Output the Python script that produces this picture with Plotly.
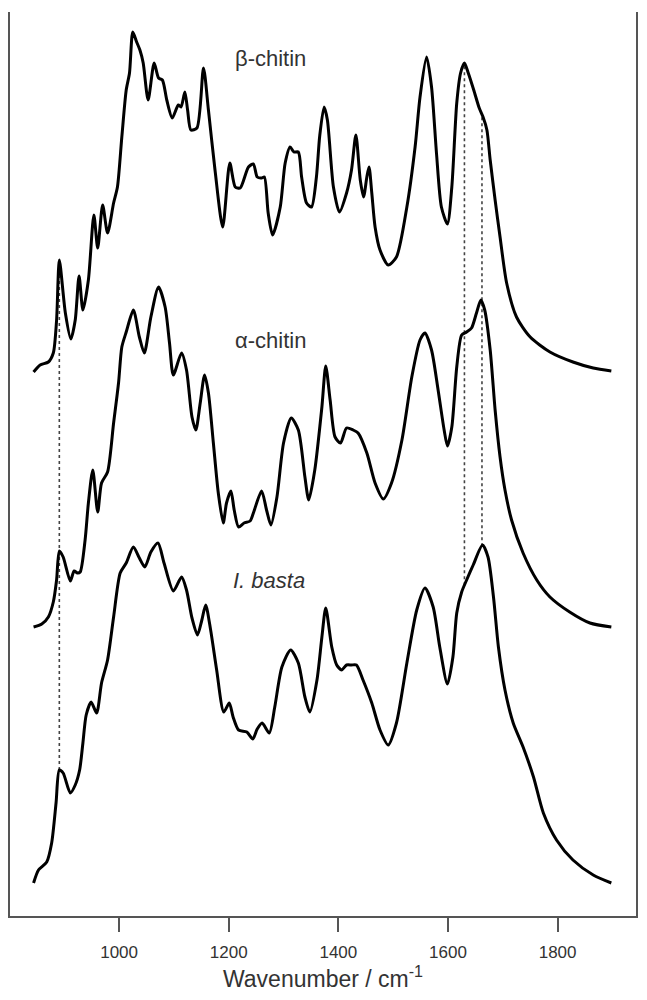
import numpy as np
import plotly.graph_objects as go

# FTIR spectra, stacked (offset absorbance, a.u.)
beta_wn = [844, 856, 871, 880, 886, 891, 902, 912, 920, 927, 934, 944, 954, 961,
           970, 979, 990, 997, 1005, 1013, 1019, 1025, 1032, 1038, 1044, 1053, 1064,
           1072, 1079, 1087, 1097, 1108, 1113, 1120, 1125, 1131, 1142, 1154, 1163,
           1175, 1189, 1202, 1212, 1221, 1236, 1245, 1252, 1260, 1265, 1272, 1280,
           1294, 1303, 1312, 1319, 1327, 1333, 1342, 1351, 1360, 1366, 1374, 1380,
           1391, 1402, 1415, 1424, 1432, 1440, 1446, 1452, 1456, 1461, 1467, 1476,
           1491, 1506, 1525, 1540, 1549, 1561, 1570, 1579, 1588, 1599, 1607, 1616,
           1623, 1630, 1637, 1647, 1657, 1664, 1671, 1677, 1686, 1695, 1707, 1725,
           1750, 1786, 1828, 1865, 1898]
beta_abs = [5.44, 5.51, 5.54, 5.63, 5.96, 6.56, 6.03, 5.77, 5.96, 6.40, 6.06, 6.36,
            7.01, 6.68, 7.11, 6.83, 7.13, 7.29, 7.79, 8.26, 8.43, 8.84, 8.74, 8.66,
            8.53, 8.16, 8.53, 8.38, 8.36, 8.16, 7.98, 8.11, 8.09, 8.24, 8.06, 7.86,
            7.88, 8.48, 8.06, 7.46, 6.89, 7.53, 7.29, 7.28, 7.49, 7.52, 7.39, 7.38,
            7.39, 7.03, 6.81, 7.09, 7.53, 7.69, 7.64, 7.64, 7.39, 7.13, 7.09, 7.39,
            7.80, 8.09, 7.96, 7.29, 7.04, 7.23, 7.46, 7.81, 7.36, 7.19, 7.39, 7.49,
            7.23, 6.89, 6.66, 6.51, 6.59, 7.09, 7.69, 8.19, 8.59, 8.29, 7.63, 7.09,
            6.92, 7.29, 8.13, 8.43, 8.53, 8.43, 8.26, 8.08, 7.99, 7.86, 7.56, 7.16,
            6.79, 6.33, 5.99, 5.79, 5.64, 5.54, 5.48, 5.45]

alpha_wn = [844, 859, 871, 880, 886, 891, 898, 911, 918, 924, 929, 938, 944, 952,
            961, 968, 979, 990, 999, 1005, 1013, 1026, 1037, 1046, 1058, 1072, 1084,
            1092, 1099, 1114, 1123, 1133, 1140, 1148, 1156, 1163, 1172, 1181, 1190,
            1196, 1204, 1210, 1218, 1228, 1239, 1245, 1260, 1269, 1277, 1288, 1300,
            1314, 1327, 1339, 1346, 1357, 1370, 1377, 1385, 1394, 1404, 1415, 1427,
            1436, 1452, 1467, 1482, 1497, 1516, 1534, 1549, 1558, 1570, 1582, 1593,
            1599, 1607, 1616, 1625, 1634, 1643, 1652, 1660, 1667, 1677, 1686, 1695,
            1704, 1716, 1737, 1762, 1786, 1822, 1859, 1898]
alpha_abs = [2.89, 2.92, 2.99, 3.14, 3.36, 3.65, 3.59, 3.35, 3.45, 3.43, 3.44, 3.76,
             4.13, 4.46, 4.04, 4.33, 4.44, 4.93, 5.33, 5.69, 5.84, 6.06, 5.79, 5.63,
             5.99, 6.29, 6.09, 5.73, 5.41, 5.63, 5.46, 4.99, 4.86, 5.13, 5.41, 5.23,
             4.73, 4.23, 3.93, 4.13, 4.25, 4.06, 3.89, 3.93, 3.95, 4.03, 4.25, 4.06,
             3.91, 4.19, 4.73, 4.98, 4.86, 4.39, 4.16, 4.46, 5.09, 5.50, 5.16, 4.79,
             4.73, 4.88, 4.86, 4.83, 4.63, 4.33, 4.17, 4.33, 4.76, 5.39, 5.76, 5.83,
             5.66, 5.26, 4.86, 4.70, 4.89, 5.49, 5.81, 5.84, 5.88, 6.03, 6.16, 6.06,
             5.66, 5.06, 4.59, 4.26, 3.96, 3.63, 3.36, 3.19, 3.04, 2.93, 2.89]

basta_wn = [844, 853, 868, 877, 885, 891, 898, 911, 920, 928, 934, 940, 949, 959,
            968, 979, 990, 1002, 1013, 1026, 1037, 1047, 1058, 1071, 1082, 1099, 1114,
            1123, 1133, 1143, 1151, 1158, 1167, 1178, 1191, 1201, 1208, 1218, 1233,
            1244, 1252, 1261, 1274, 1284, 1297, 1313, 1327, 1339, 1348, 1361, 1370,
            1377, 1388, 1397, 1406, 1415, 1424, 1433, 1445, 1461, 1476, 1491, 1506,
            1525, 1543, 1558, 1573, 1585, 1599, 1609, 1616, 1625, 1634, 1646, 1663,
            1673, 1683, 1692, 1704, 1719, 1737, 1756, 1774, 1798, 1828, 1865, 1898]
basta_abs = [0.33, 0.46, 0.54, 0.73, 1.13, 1.46, 1.43, 1.23, 1.31, 1.46, 1.73, 2.01,
             2.14, 2.03, 2.33, 2.56, 2.99, 3.43, 3.53, 3.69, 3.58, 3.49, 3.64, 3.73,
             3.53, 3.25, 3.39, 3.26, 2.98, 2.81, 2.96, 3.11, 2.86, 2.46, 2.04, 2.13,
             1.99, 1.86, 1.84, 1.77, 1.87, 1.93, 1.83, 2.09, 2.49, 2.66, 2.53, 2.19,
             2.04, 2.36, 2.79, 3.08, 2.69, 2.51, 2.46, 2.51, 2.51, 2.51, 2.36, 2.13,
             1.86, 1.71, 1.93, 2.53, 3.06, 3.28, 3.09, 2.69, 2.32, 2.59, 3.03, 3.24,
             3.36, 3.51, 3.71, 3.59, 3.19, 2.69, 2.26, 1.93, 1.69, 1.39, 1.03, 0.76,
             0.56, 0.41, 0.33]

# band positions marked with dotted guide lines
marker_wn = [891, 1630, 1662]

spectra = [
    (beta_wn, beta_abs, "β-chitin"),
    (alpha_wn, alpha_abs, "α-chitin"),
    (basta_wn, basta_abs, "I. basta"),
]

FONT = "Arial, Liberation Sans, sans-serif"

fig = go.Figure()

for wn in marker_wn:
    y_top = np.interp(wn, beta_wn, beta_abs)
    y_bot = np.interp(wn, basta_wn, basta_abs)
    fig.add_trace(
        go.Scatter(
            x=[wn, wn],
            y=[y_bot, y_top],
            mode="lines",
            line=dict(color="#444", width=1.6, dash="dot"),
            showlegend=False,
            hoverinfo="skip",
        )
    )

for x, y, name in spectra:
    fig.add_trace(
        go.Scatter(
            x=x,
            y=y,
            mode="lines",
            name=name,
            line=dict(color="black", width=3, shape="spline", smoothing=0.7),
            showlegend=False,
        )
    )

label_font = dict(family=FONT, size=22, color="#333")
for text, x, y in [("β-chitin", 1277, 8.58), ("α-chitin", 1277, 5.76), ("<i>I. basta</i>", 1274, 3.36)]:
    fig.add_annotation(x=x, y=y, text=text, showarrow=False, font=label_font)

fig.update_xaxes(
    range=[801, 1943],
    tickvals=[1000, 1200, 1400, 1600, 1800],
    ticks="outside",
    ticklen=14,
    tickwidth=1.5,
    tickcolor="#555",
    ticklabelstandoff=6,
    showline=True,
    linecolor="#555",
    linewidth=2,
    mirror=False,
    showgrid=False,
    zeroline=False,
    tickfont=dict(family=FONT, size=17, color="#333"),
    title=dict(
        text="Wavenumber / cm<sup>-1</sup>",
        font=dict(family=FONT, size=23, color="#333"),
        standoff=9,
    ),
)
fig.update_yaxes(
    range=[0, 9.04],
    showticklabels=False,
    ticks="",
    showline=True,
    linecolor="#555",
    linewidth=2,
    mirror=True,
    showgrid=False,
    zeroline=False,
)
# page body adds an 8px offset, so the figure is a little smaller than the window
fig.update_layout(
    width=639,
    height=992,
    margin=dict(l=2, r=11, t=4, b=84),
    plot_bgcolor="white",
    paper_bgcolor="white",
)

fig.write_html("out.html")
